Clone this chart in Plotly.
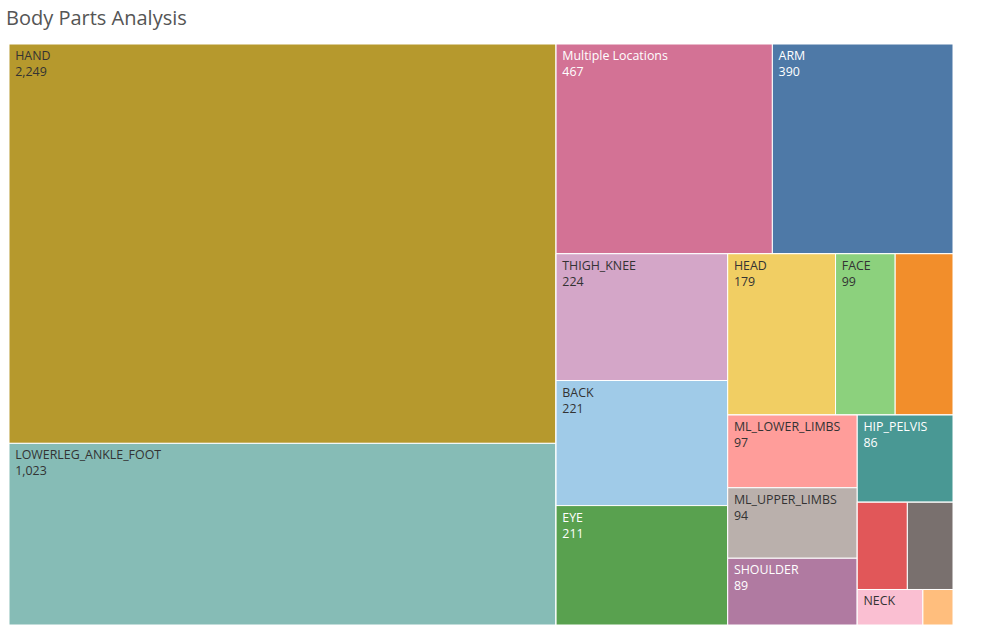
import plotly.graph_objects as go

# Leaf data
categories = ["HAND", "LOWERLEG_ANKLE_FOOT", "Multiple Locations", "ARM",
              "THIGH_KNEE", "BACK", "EYE", "HEAD", "FACE", "TRUNK",
              "ML_LOWER_LIMBS", "ML_UPPER_LIMBS", "SHOULDER", "HIP_PELVIS",
              "CHEST", "ABDOMEN", "NECK", "OTHER"]
values = [2249, 1023, 467, 390, 224, 221, 211, 179, 99, 96,
          97, 94, 89, 86, 45, 41, 24, 11]
show_label = [True, True, True, True, True, True, True, True, True, False,
              True, True, True, True, False, False, True, False]
show_value = [True, True, True, True, True, True, True, True, True, False,
              True, True, True, True, False, False, False, False]

# Tableau-style grouping used only to reproduce the tiling order
groups = ["G1", "G2", "G3", "G4", "G5", "G6", "G7", "G8", "G9", "G10", "G11", "G12"]
group_parent = ["ROOT", "ROOT", "G2", "G2", "G4", "G4", "G6", "G6", "G8", "G8", "G10", "G10"]
leaf_parent = ["G1", "G1", "G3", "G3", "G5", "G5", "G5", "G7", "G7", "G7",
               "G9", "G9", "G9", "G10", "G11", "G11", "G12", "G12"]

colors = {
    "HAND": "#B6992D", "LOWERLEG_ANKLE_FOOT": "#86BCB6", "Multiple Locations": "#D37295",
    "ARM": "#4E79A7", "THIGH_KNEE": "#D4A6C8", "BACK": "#A0CBE8", "EYE": "#59A14F",
    "HEAD": "#F1CE63", "FACE": "#8CD17D", "TRUNK": "#F28E2B", "ML_LOWER_LIMBS": "#FF9D9A",
    "ML_UPPER_LIMBS": "#BAB0AC", "SHOULDER": "#B07AA1", "HIP_PELVIS": "#499894",
    "CHEST": "#E15759", "ABDOMEN": "#79706E", "NECK": "#FABFD2", "OTHER": "#FFBE7D",
}
white_text = {"Multiple Locations", "ARM", "EYE", "SHOULDER", "HIP_PELVIS"}

# order: root, leaves, then groups (sibling order follows array order)
ids = ["ROOT"] + categories + groups
labels = [""] + categories + [""] * len(groups)
parents = [""] + leaf_parent + group_parent
vals = [0] + values + [0] * len(groups)
node_colors = ["white"] + [colors[c] for c in categories] + ["white"] * len(groups)
text_colors = ["#333333"] + [
    ("#ffffff" if c in white_text else "#333333") for c in categories] + ["#333333"] * len(groups)
templates = [""]
for c, v, sl, sv in zip(categories, values, show_label, show_value):
    if sl and sv:
        templates.append(f"&nbsp;{c}<br>&nbsp;{v:,}")
    elif sl:
        templates.append(f"&nbsp;{c}")
    else:
        templates.append("")
templates += [""] * len(groups)

fig = go.Figure(go.Treemap(
    ids=ids, labels=labels, parents=parents, values=vals,
    branchvalues="remainder", sort=False,
    texttemplate=templates, textposition="top left",
    textfont=dict(family="Open Sans, Lato, sans-serif", size=12.4, color=text_colors),
    marker=dict(colors=node_colors, line=dict(color="white", width=1),
                pad=dict(t=0, l=0, r=0, b=0)),
    tiling=dict(packing="slice-dice", pad=0),
    pathbar=dict(visible=False),
    hovertemplate="%{label}<br>%{value:,}<extra></extra>",
))

fig.update_layout(
    width=986, height=632,
    margin=dict(l=9, r=33, t=44, b=7),
    paper_bgcolor="white",
    title=dict(text="Body Parts Analysis", x=6 / 986, xanchor="left",
               y=1 - 18 / 632, yanchor="middle",
               font=dict(family="Open Sans, Lato, sans-serif", size=20, color="#555555")),
)

fig.write_html("out.html", config={"displayModeBar": False},
               post_script="document.body.style.margin='0';")
